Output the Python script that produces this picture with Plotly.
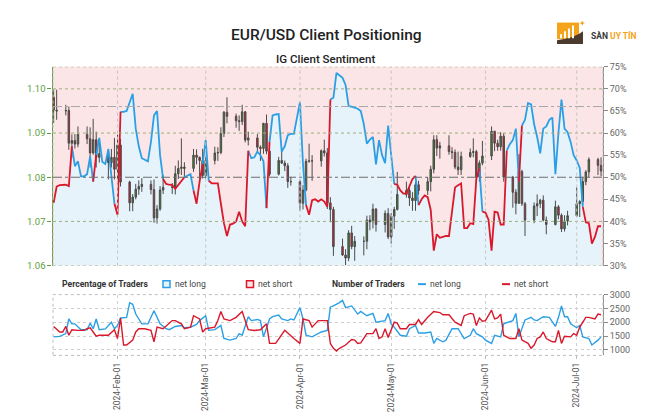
import pandas as pd
import plotly.graph_objects as go

# ---------------- data ----------------
# IG client sentiment: % of traders net long (daily, 2024-01-11 .. 2024-07-09)
pct_dates = pd.date_range("2024-01-11", "2024-07-09", freq="D")
pct_long = [
    # Jan 11-31
    44.2, 47.9, 48.2, 48.3, 48.3, 48.0, 57.0, 52.5, 53.6, 50.2, 50.2, 50.7, 54.7, 49.0, 55.0, 58.9, 53.5, 53.0, 56.4, 50.5, 44.0,
    # Feb
    41.5, 64.8, 64.8, 65.0, 67.0, 68.9, 61.0, 57.0, 54.3, 54.0, 53.6, 58.0, 64.0, 65.0, 55.0, 49.6, 48.5, 48.3, 48.2, 47.4,
    48.3, 49.2, 50.0, 50.3, 50.7, 47.0, 44.0, 49.0, 53.0,
    # Mar
    58.4, 49.2, 48.6, 48.6, 48.6, 44.0, 39.6, 36.7, 39.3, 39.5, 40.0, 42.2, 40.0, 38.9, 56.0, 54.3, 54.5, 55.8, 55.0, 53.6,
    43.0, 58.0, 64.0, 64.2, 64.3, 55.8, 57.0, 59.5, 59.8, 59.8, 63.0,
    # Apr
    67.0, 52.9, 43.7, 41.5, 44.8, 45.0, 44.5, 45.0, 44.5, 43.3, 67.6, 68.0, 73.6, 73.0, 72.5, 70.9, 66.1, 66.0, 65.8, 65.5,
    65.0, 62.0, 57.6, 58.5, 59.1, 52.9, 58.4, 55.0, 53.2, 61.7,
    # May
    55.0, 48.5, 48.3, 47.0, 46.3, 46.3, 48.1, 49.6, 50.3, 43.7, 45.0, 45.9, 45.5, 42.6, 33.4, 37.1, 36.3, 36.5, 36.7, 36.7,
    42.0, 47.7, 48.2, 48.6, 38.5, 38.5, 39.6, 39.4, 49.6, 52.0, 42.2,
    # Jun
    42.0, 40.4, 33.4, 42.2, 42.0, 39.3, 39.3, 56.0, 57.5, 58.4, 61.0, 49.0, 61.7, 63.0, 66.8, 66.5, 62.0, 59.1, 55.4, 61.0,
    61.5, 63.0, 63.5, 50.7, 60.0, 67.6, 61.0, 60.2, 58.0, 55.0,
    # Jul 1-9
    53.8, 52.1, 43.3, 39.8, 39.6, 35.0, 36.5, 38.9, 38.9,
]

# Number of traders
long_dates = [
    "01-11", "01-13", "01-15", "01-16", "01-17", "01-18", "01-20", "01-22", "01-23", "01-24", "01-25", "01-26", "01-28",
    "01-30", "01-31", "02-01", "02-02", "02-04", "02-05", "02-06", "02-07", "02-09", "02-11", "02-13", "02-15", "02-17",
    "02-18", "02-20", "02-22", "02-23", "02-25", "02-27", "02-28", "03-01", "03-02", "03-04", "03-06", "03-07", "03-09",
    "03-11", "03-12", "03-13", "03-15", "03-16", "03-18", "03-19", "03-20", "03-22", "03-23", "03-25", "03-26", "03-28",
    "03-29", "03-30", "04-01", "04-02", "04-03", "04-05", "04-08", "04-10", "04-11", "04-12", "04-14", "04-15", "04-16",
    "04-18", "04-20", "04-21", "04-23", "04-25", "04-26", "04-27", "04-29", "04-30", "05-01", "05-02", "05-04", "05-06",
    "05-07", "05-09", "05-10", "05-12", "05-14", "05-15", "05-16", "05-18", "05-19", "05-21", "05-23", "05-25", "05-27",
    "05-28", "05-29", "05-31", "06-01", "06-03", "06-04", "06-06", "06-07", "06-10", "06-11", "06-12", "06-14", "06-16",
    "06-17", "06-18", "06-20", "06-22", "06-24", "06-25", "06-26", "06-27", "06-28", "06-29", "07-01", "07-02", "07-03",
    "07-05", "07-06", "07-08", "07-09",
]
long_count = [
    1470, 1490, 1588, 2118, 1941, 1941, 1729, 1729, 1965, 1764, 2118, 1729, 1760,
    2000, 1764, 1882, 2153, 2177, 2707, 2648, 2295, 1941, 1941, 2413, 1941, 1764,
    1729, 1847, 1882, 1800, 1820, 1918, 2059, 2236, 1706, 1730, 1882, 1411, 1352,
    1411, 1588, 1529, 2200, 2059, 2100, 2059, 1470, 2118, 2200, 2259, 2120, 2059,
    2120, 2083, 2530, 2118, 1529, 1470, 1647, 1706, 2554, 2589, 2707, 2789, 2530,
    2589, 2295, 2389, 2236, 2318, 2000, 2024, 2059, 2318, 1941, 1823, 1529, 1494,
    1764, 1882, 1611, 1611, 1647, 1234, 1411, 1293, 1352, 1764, 1764, 1411, 1529,
    1764, 1588, 1470, 1352, 1234, 1529, 1470, 1941, 2059, 2318, 1470, 2083, 2177,
    2083, 2059, 2200, 2177, 1847, 2177, 2589, 2200, 2200, 1941, 1800, 1882, 1470,
    1411, 1176, 1352, 1470,
]
short_dates = [
    "01-11", "01-13", "01-14", "01-15", "01-16", "01-17", "01-19", "01-21", "01-22", "01-23", "01-24", "01-25", "01-26",
    "01-29", "01-31", "02-01", "02-02", "02-03", "02-04", "02-06", "02-07", "02-08", "02-10", "02-12", "02-13", "02-14",
    "02-16", "02-18", "02-19", "02-20", "02-22", "02-23", "02-25", "02-26", "02-28", "02-29", "03-01", "03-04", "03-05",
    "03-06", "03-07", "03-09", "03-11", "03-13", "03-15", "03-17", "03-19", "03-21", "03-22", "03-24", "03-27", "03-30",
    "04-01", "04-02", "04-04", "04-05", "04-07", "04-10", "04-11", "04-12", "04-13", "04-14", "04-16", "04-18", "04-19",
    "04-20", "04-21", "04-23", "04-25", "04-26", "04-27", "04-28", "04-29", "04-30", "05-01", "05-02", "05-03", "05-04",
    "05-06", "05-07", "05-09", "05-10", "05-11", "05-12", "05-13", "05-15", "05-17", "05-18", "05-20", "05-22", "05-24",
    "05-25", "05-27", "05-28", "05-29", "05-30", "05-31", "06-01", "06-03", "06-04", "06-05", "06-06", "06-07", "06-09",
    "06-11", "06-12", "06-13", "06-15", "06-16", "06-17", "06-18", "06-19", "06-20", "06-21", "06-23", "06-24", "06-25",
    "06-26", "06-27", "06-29", "06-30", "07-01", "07-02", "07-04", "07-05", "07-07", "07-08", "07-09",
]
short_count = [
    1847, 1647, 1647, 1847, 1529, 1729, 1706, 1706, 1764, 1800, 1647, 1494, 1529,
    1529, 1729, 1411, 2153, 1176, 1176, 1352, 1647, 1764, 1764, 1706, 1293, 1823,
    1764, 1941, 2059, 2059, 1941, 1764, 1820, 2236, 2118, 1647, 1764, 1823, 2059,
    2389, 2118, 2059, 2177, 2389, 1729, 1700, 1729, 1941, 1234, 1234, 1706, 1411,
    1234, 2118, 2059, 1823, 2059, 2059, 1234, 1058, 960, 1058, 1176, 1376, 1352,
    1234, 1250, 1588, 1588, 1764, 1411, 1470, 1764, 1446, 1706, 2000, 1965, 1764,
    1764, 1918, 1918, 2094, 1918, 2059, 2177, 2389, 2350, 2271, 2271, 2000, 1882,
    2236, 2318, 2294, 1882, 2153, 2035, 2059, 2436, 2118, 2153, 2295, 1529, 1411,
    1411, 1764, 1352, 1234, 1058, 1176, 1411, 1470, 1647, 1411, 1293, 1293, 1706,
    1234, 1494, 1470, 1588, 1529, 1823, 2177, 2177, 2118, 2295, 2271,
]

# EUR/USD daily candles (weekdays 2024-01-11 .. 2024-07-09)
candle_dates = pd.bdate_range("2024-01-11", "2024-07-09")
c_open = [
    1.0981, 1.0952, 1.0950, 1.0951, 1.0877, 1.0883, 1.0875, 1.0897, 1.0887, 1.0855, 1.0885, 1.0845, 1.0853, 1.0833, 1.0845,
    1.0818, 1.0873, 1.0789, 1.0742, 1.0755, 1.0773, 1.0779, 1.0784, 1.0772, 1.0708, 1.0728, 1.0771, 1.0777, 1.0778, 1.0808,
    1.0820, 1.0823, 1.0820, 1.0850, 1.0845, 1.0838,
    1.0804, 1.0838, 1.0855, 1.0856, 1.0899, 1.0947, 1.0938, 1.0928, 1.0926, 1.0948, 1.0884, 1.0889, 1.0868, 1.0865, 1.0922,
    1.0859, 1.0807, 1.0838, 1.0832, 1.0826, 1.0790,
    1.0790, 1.0741, 1.0771, 1.0836, 1.0837, 1.0837, 1.0860, 1.0855, 1.0742, 1.0727, 1.0643, 1.0624, 1.0617, 1.0674, 1.0643,
    1.0655, 1.0655, 1.0703, 1.0699, 1.0728, 1.0693, 1.0718,
    1.0665, 1.0712, 1.0727, 1.0761, 1.0770, 1.0753, 1.0747, 1.0783, 1.0770, 1.0790, 1.0818, 1.0885, 1.0866, 1.0871, 1.0858,
    1.0856, 1.0823, 1.0817, 1.0847, 1.0856, 1.0858, 1.0801, 1.0832,
    1.0848, 1.0904, 1.0877, 1.0869, 1.0893, 1.0800, 1.0766, 1.0741, 1.0813, 1.0740, 1.0703, 1.0735, 1.0740, 1.0748, 1.0703,
    1.0693, 1.0733, 1.0714, 1.0683, 1.0701,
    1.0713, 1.0740, 1.0745, 1.0790, 1.0812, 1.0840, 1.0827,
]
c_high = [
    1.0999, 1.0998, 1.0964, 1.0960, 1.0897, 1.0898, 1.0915, 1.0915, 1.0913, 1.0932, 1.0903, 1.0885, 1.0857, 1.0864, 1.0889,
    1.0896, 1.0887, 1.0792, 1.0762, 1.0785, 1.0793, 1.0798, 1.0793, 1.0795, 1.0737, 1.0780, 1.0805, 1.0787, 1.0826, 1.0838,
    1.0888, 1.0834, 1.0864, 1.0863, 1.0847, 1.0864,
    1.0849, 1.0869, 1.0868, 1.0913, 1.0950, 1.0981, 1.0944, 1.0940, 1.0964, 1.0950, 1.0903, 1.0898, 1.0872, 1.0923, 1.0942,
    1.0863, 1.0846, 1.0863, 1.0838, 1.0832, 1.0801,
    1.0794, 1.0782, 1.0842, 1.0876, 1.0850, 1.0863, 1.0885, 1.0866, 1.0755, 1.0733, 1.0661, 1.0637, 1.0680, 1.0690, 1.0667,
    1.0666, 1.0713, 1.0714, 1.0740, 1.0730, 1.0725, 1.0730,
    1.0719, 1.0733, 1.0812, 1.0790, 1.0782, 1.0766, 1.0790, 1.0792, 1.0800, 1.0826, 1.0895, 1.0895, 1.0880, 1.0895, 1.0868,
    1.0863, 1.0858, 1.0858, 1.0865, 1.0888, 1.0862, 1.0838, 1.0882,
    1.0915, 1.0905, 1.0885, 1.0902, 1.0900, 1.0803, 1.0773, 1.0852, 1.0817, 1.0744, 1.0743, 1.0761, 1.0751, 1.0759, 1.0711,
    1.0747, 1.0737, 1.0718, 1.0714, 1.0724,
    1.0777, 1.0748, 1.0800, 1.0816, 1.0845, 1.0844, 1.0845,
]
c_low = [
    1.0923, 1.0930, 1.0940, 1.0862, 1.0844, 1.0865, 1.0868, 1.0875, 1.0822, 1.0851, 1.0822, 1.0833, 1.0795, 1.0822, 1.0795,
    1.0795, 1.0779, 1.0723, 1.0723, 1.0750, 1.0760, 1.0767, 1.0761, 1.0697, 1.0695, 1.0724, 1.0762, 1.0762, 1.0761, 1.0796,
    1.0805, 1.0801, 1.0812, 1.0829, 1.0796, 1.0797,
    1.0797, 1.0829, 1.0837, 1.0852, 1.0891, 1.0922, 1.0912, 1.0905, 1.0918, 1.0879, 1.0872, 1.0858, 1.0837, 1.0853, 1.0852,
    1.0802, 1.0804, 1.0830, 1.0814, 1.0776, 1.0781,
    1.0724, 1.0727, 1.0768, 1.0833, 1.0792, 1.0824, 1.0847, 1.0728, 1.0698, 1.0622, 1.0622, 1.0601, 1.0610, 1.0637, 1.0611,
    1.0623, 1.0637, 1.0680, 1.0684, 1.0677, 1.0675, 1.0660,
    1.0650, 1.0683, 1.0725, 1.0754, 1.0735, 1.0724, 1.0724, 1.0760, 1.0760, 1.0768, 1.0809, 1.0848, 1.0842, 1.0851, 1.0841,
    1.0818, 1.0805, 1.0805, 1.0844, 1.0845, 1.0789, 1.0790, 1.0827,
    1.0839, 1.0859, 1.0860, 1.0860, 1.0790, 1.0731, 1.0716, 1.0740, 1.0735, 1.0667, 1.0696, 1.0712, 1.0730, 1.0700, 1.0671,
    1.0691, 1.0705, 1.0676, 1.0677, 1.0691,
    1.0710, 1.0710, 1.0737, 1.0782, 1.0800, 1.0805, 1.0802,
]
c_close = [
    1.0952, 1.0950, 1.0951, 1.0877, 1.0883, 1.0875, 1.0897, 1.0887, 1.0855, 1.0885, 1.0845, 1.0853, 1.0833, 1.0845, 1.0818,
    1.0873, 1.0789, 1.0742, 1.0755, 1.0773, 1.0779, 1.0784, 1.0772, 1.0708, 1.0728, 1.0771, 1.0777, 1.0778, 1.0808, 1.0820,
    1.0823, 1.0820, 1.0850, 1.0845, 1.0838, 1.0804,
    1.0838, 1.0855, 1.0856, 1.0899, 1.0947, 1.0938, 1.0928, 1.0926, 1.0948, 1.0884, 1.0889, 1.0868, 1.0865, 1.0922, 1.0859,
    1.0807, 1.0838, 1.0832, 1.0826, 1.0790, 1.0790,
    1.0741, 1.0771, 1.0836, 1.0837, 1.0837, 1.0860, 1.0855, 1.0742, 1.0727, 1.0643, 1.0624, 1.0617, 1.0674, 1.0643, 1.0655,
    1.0655, 1.0703, 1.0699, 1.0728, 1.0693, 1.0718, 1.0665,
    1.0712, 1.0727, 1.0761, 1.0770, 1.0753, 1.0747, 1.0783, 1.0770, 1.0790, 1.0818, 1.0885, 1.0866, 1.0871, 1.0858, 1.0856,
    1.0823, 1.0817, 1.0847, 1.0856, 1.0858, 1.0801, 1.0832, 1.0848,
    1.0904, 1.0877, 1.0869, 1.0893, 1.0800, 1.0766, 1.0741, 1.0813, 1.0740, 1.0703, 1.0735, 1.0740, 1.0748, 1.0703, 1.0693,
    1.0733, 1.0714, 1.0683, 1.0701, 1.0713,
    1.0740, 1.0745, 1.0790, 1.0812, 1.0840, 1.0827, 1.0814,
]

pct_ticks = [30, 35, 40, 45, 50, 55, 60, 65, 70, 75]
price_ticks = [1.06, 1.07, 1.08, 1.09, 1.10]
count_ticks = [1000, 1500, 2000, 2500, 3000]
month_ticks = ["2024-02-01", "2024-03-01", "2024-04-01", "2024-05-01", "2024-06-01", "2024-07-01"]

# ---------------- style ----------------
W, H = 655, 417
def px(x): return x / W
def py(y): return 1 - y / H

BLUE = "#2b9fe6"
RED = "#d9182b"
FILL_BLUE = "#e6f3fb"
PINK = "#fbe5e6"
GREEN_AX = "#5f9e3c"
GRAY_AX = "#8a8a8a"
FONT = "Roboto, Liberation Sans, sans-serif"
XRANGE = ["2024-01-10 19:00", "2024-07-09 15:36"]
XDOM = [px(53), px(603)]

assert len(pct_long) == len(pct_dates)
assert len(c_open) == len(c_high) == len(c_low) == len(c_close) == len(candle_dates)
assert len(long_dates) == len(long_count) and len(short_dates) == len(short_count)

# split sentiment line into blue (net long majority) / red runs
runs = {"b": ([], []), "r": ([], [])}
prev = None
for i in range(len(pct_long) - 1):
    c = "b" if pct_long[i] >= 50 else "r"
    xs, ys = runs[c]
    if c != prev:
        if xs:
            xs.append(None); ys.append(None)
        xs.append(pct_dates[i]); ys.append(pct_long[i])
    xs.append(pct_dates[i + 1]); ys.append(pct_long[i + 1])
    prev = c

fig = go.Figure()
fig.add_trace(go.Scatter(x=pct_dates, y=pct_long, mode="lines", line=dict(width=0),
                         fill="tozeroy", fillcolor=FILL_BLUE, xaxis="x", yaxis="y", hoverinfo="skip"))
fig.add_trace(go.Candlestick(
    x=candle_dates, open=c_open, high=c_high, low=c_low, close=c_close, xaxis="x", yaxis="y2",
    increasing=dict(line=dict(color="#4a4a4a", width=1), fillcolor="#3b8a26"),
    decreasing=dict(line=dict(color="#4a4a4a", width=1), fillcolor="#d9182b"),
    whiskerwidth=0,
))
fig.add_trace(go.Scatter(x=runs["b"][0], y=runs["b"][1], mode="lines", line=dict(color=BLUE, width=1.8),
                         xaxis="x", yaxis="y3", connectgaps=False))
fig.add_trace(go.Scatter(x=runs["r"][0], y=runs["r"][1], mode="lines", line=dict(color=RED, width=1.8),
                         xaxis="x", yaxis="y3", connectgaps=False))
fig.add_trace(go.Scatter(x=["2024-" + d for d in long_dates], y=long_count, mode="lines",
                         line=dict(color=BLUE, width=1.4), xaxis="x2", yaxis="y4"))
fig.add_trace(go.Scatter(x=["2024-" + d for d in short_dates], y=short_count, mode="lines",
                         line=dict(color=RED, width=1.4), xaxis="x2", yaxis="y4"))

shapes = []
shapes.append(dict(type="rect", xref="x domain", yref="y domain", x0=0, x1=1, y0=0, y1=1,
                   fillcolor=PINK, line=dict(width=0), layer="below"))
for v in [30, 40, 60, 70, 75]:
    shapes.append(dict(type="line", xref="x domain", yref="y", x0=0, x1=1, y0=v, y1=v,
                       line=dict(color="#9fae80", width=1, dash="dot"), layer="above"))
shapes.append(dict(type="line", xref="x domain", yref="y", x0=0, x1=1, y0=50, y1=50,
                   line=dict(color="#6e6e6e", width=1.2, dash="dashdot"), layer="above"))
shapes.append(dict(type="line", xref="x domain", yref="y", x0=0, x1=1, y0=66, y1=66,
                   line=dict(color="#a8a8a8", width=1, dash="dashdot"), layer="above"))
for m in month_ticks:
    shapes.append(dict(type="line", xref="x", yref="y domain", x0=m, x1=m, y0=0, y1=1,
                       line=dict(color="#c4c4c4", width=1, dash="dot"), layer="above"))
for xd in [0, 1]:
    shapes.append(dict(type="line", xref="x domain", yref="y domain", x0=xd, x1=xd, y0=0, y1=1,
                       line=dict(color="#bdbdbd", width=1, dash="dot"), layer="above"))
shapes.append(dict(type="rect", xref="x2 domain", yref="y4 domain", x0=0, x1=1, y0=0, y1=1,
                   line=dict(color="#bcbcbc", width=1, dash="dot"), layer="above"))

annotations = []
def note(text, x, y, size, color="#222", xanchor="center", weight=None, family=FONT):
    f = dict(family=family, size=size, color=color)
    if weight:
        f["weight"] = weight
    annotations.append(dict(text=text, x=px(x), y=py(y), xref="paper", yref="paper", xanchor=xanchor,
                            yanchor="middle", showarrow=False, font=f))

note("EUR/USD Client Positioning", 326, 31, 15.5, weight=500)
note("IG Client Sentiment", 325, 55, 11.5, weight=500)

LY = 286
note("<b>Percentage of Traders</b>", 60, LY, 8.6, "#333", "left")
note("net long", 173, LY, 8.6, "#444", "left")
note("net short", 256, LY, 8.6, "#444", "left")
note("<b>Number of Traders</b>", 330, LY, 8.6, "#333", "left")
note("net long", 428, LY, 8.6, "#444", "left")
note("net short", 512, LY, 8.6, "#444", "left")
shapes.append(dict(type="rect", xref="paper", yref="paper", x0=px(163), x1=px(170), y0=py(289.5), y1=py(282.5),
                   fillcolor=FILL_BLUE, line=dict(color=BLUE, width=1.5)))
shapes.append(dict(type="rect", xref="paper", yref="paper", x0=px(246.5), x1=px(253.5), y0=py(289.5), y1=py(282.5),
                   fillcolor=PINK, line=dict(color=RED, width=1.5)))
shapes.append(dict(type="line", xref="paper", yref="paper", x0=px(418), x1=px(426), y0=py(LY), y1=py(LY),
                   line=dict(color=BLUE, width=2)))
shapes.append(dict(type="line", xref="paper", yref="paper", x0=px(502), x1=px(510), y0=py(LY), y1=py(LY),
                   line=dict(color=RED, width=2)))

# logo
shapes.append(dict(type="rect", xref="paper", yref="paper", x0=px(557), x1=px(579), y0=py(35), y1=py(18),
                   fillcolor="#f5a31a", line=dict(width=0)))
shapes.append(dict(type="path", xref="paper", yref="paper",
                   path=f"M {px(557)},{py(40)} L {px(583)},{py(40)} L {px(583)},{py(27)} "
                        f"Q {px(575)},{py(34)} {px(557)},{py(36)} Z",
                   fillcolor="#4b3a2e", line=dict(width=0)))
for bx0, top in [(560, 30), (564, 27), (568, 24), (572, 21)]:
    shapes.append(dict(type="rect", xref="paper", yref="paper", x0=px(bx0), x1=px(bx0 + 2), y0=py(34), y1=py(top),
                       fillcolor="white", line=dict(width=0)))
note("✦", 582, 19, 8, "#f5a31a")
note("<b>SÀN <span style='color:#f5a31a'>UY TÍN</span></b>", 589, 31, 8.5, "#3a3a3a", "left")

fig.update_layout(
    width=W, height=H, margin=dict(l=0, r=0, t=0, b=0),
    paper_bgcolor="white", plot_bgcolor="rgba(0,0,0,0)", showlegend=False,
    font=dict(family=FONT, size=10, color="#555"),
    xaxis=dict(domain=XDOM, range=XRANGE, type="date", showticklabels=False, showgrid=False, zeroline=False,
               anchor="y", rangeslider=dict(visible=False), showline=False, ticks=""),
    yaxis=dict(domain=[py(267), py(63.3)], range=[30, 75], side="right", tickvals=pct_ticks,
               ticktext=[f"{v}%" for v in pct_ticks], showgrid=False, zeroline=False, showline=True,
               linecolor=GRAY_AX, linewidth=1, ticks="outside", ticklen=4, tickcolor=GRAY_AX,
               tickfont=dict(family=FONT, size=9, color="#666"), anchor="x"),
    yaxis2=dict(overlaying="y", range=[1.06, 1.105], side="left", anchor="free", position=px(51.5),
                tickvals=price_ticks, ticktext=[f"{v:.2f}" for v in price_ticks], showgrid=False,
                zeroline=False, showline=True, linecolor=GREEN_AX, linewidth=1.2, ticks="outside",
                ticklen=4, tickcolor=GREEN_AX, tickfont=dict(family=FONT, size=9.5, color=GREEN_AX)),
    yaxis3=dict(overlaying="y", range=[30, 75], visible=False),
    xaxis2=dict(domain=XDOM, range=XRANGE, type="date", anchor="y4", tickvals=month_ticks,
                tickformat="%Y-%b-%d", tickangle=-90, showgrid=True, gridcolor="#cfcfcf", griddash="dot",
                zeroline=False, ticks="outside", ticklen=3, tickcolor="#bbb",
                tickfont=dict(family=FONT, size=8.5, color="#555")),
    yaxis4=dict(domain=[py(359), py(296.7)], range=[800, 3000], side="right", anchor="x2",
                tickvals=count_ticks, showgrid=True, gridcolor="#cfcfcf", griddash="dot", zeroline=False,
                showline=True, linecolor=GRAY_AX, ticks="outside", ticklen=4, tickcolor=GRAY_AX,
                tickfont=dict(family=FONT, size=9, color="#666")),
    shapes=shapes, annotations=annotations,
)

fig.write_html("out.html", config={"displayModeBar": False},
               post_script="document.body.style.margin='0px';")
